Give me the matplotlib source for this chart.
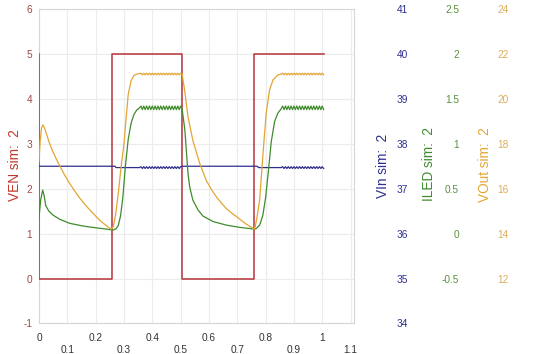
import matplotlib
matplotlib.use("Agg")
import matplotlib.pyplot as plt

plt.rcParams['font.family'] = ['Liberation Sans', 'DejaVu Sans']
plt.rcParams['axes.unicode_minus'] = False

# VEN square wave (V)
ven_t = [0, 0, 0.257, 0.257, 0.505, 0.505, 0.76, 0.76, 1.005]
ven_v = [5, 0, 0, 5, 5, 0, 0, 5, 5]

# ripple sample times on the two "on" plateaus
rip1_t = [0.36, 0.365, 0.37, 0.375, 0.38, 0.385, 0.39, 0.395, 0.40, 0.405,
          0.41, 0.415, 0.42, 0.425, 0.43, 0.435, 0.44, 0.445, 0.45, 0.455,
          0.46, 0.465, 0.47, 0.475, 0.48, 0.485, 0.49, 0.495, 0.50]
rip2_t = [0.86, 0.865, 0.87, 0.875, 0.88, 0.885, 0.89, 0.895, 0.90, 0.905,
          0.91, 0.915, 0.92, 0.925, 0.93, 0.935, 0.94, 0.945, 0.95, 0.955,
          0.96, 0.965, 0.97, 0.975, 0.98, 0.985, 0.99, 0.995, 1.0, 1.005]

# ILED (A)
led_a_t = [0.0, 0.006, 0.013, 0.018, 0.024, 0.035, 0.05, 0.073, 0.108, 0.155,
           0.2, 0.24, 0.262, 0.272, 0.28, 0.288, 0.296, 0.305, 0.315, 0.325,
           0.335, 0.345, 0.355]
led_a_i = [0.175, 0.375, 0.485, 0.425, 0.31, 0.25, 0.205, 0.16, 0.115, 0.085,
           0.065, 0.05, 0.04, 0.055, 0.09, 0.2, 0.4, 0.75, 1.05, 1.225,
           1.325, 1.375, 1.4]
led_r1_i = [1.42, 1.38, 1.42, 1.38, 1.42, 1.38, 1.42, 1.38, 1.42, 1.38,
            1.42, 1.38, 1.42, 1.38, 1.42, 1.38, 1.42, 1.38, 1.42, 1.38,
            1.42, 1.38, 1.42, 1.38, 1.42, 1.38, 1.42, 1.38, 1.42]
led_b_t = [0.505, 0.51, 0.515, 0.52, 0.526, 0.532, 0.543, 0.561, 0.579, 0.614,
           0.661, 0.708, 0.762, 0.768, 0.779, 0.79, 0.8, 0.81, 0.82, 0.832,
           0.843, 0.855]
led_b_i = [1.39, 1.275, 1.15, 0.93, 0.67, 0.52, 0.375, 0.265, 0.195, 0.135,
           0.095, 0.07, 0.05, 0.06, 0.095, 0.2, 0.4, 0.7, 1.025, 1.25,
           1.34, 1.39]
led_r2_i = [1.42, 1.38, 1.42, 1.38, 1.42, 1.38, 1.42, 1.38, 1.42, 1.38,
            1.42, 1.38, 1.42, 1.38, 1.42, 1.38, 1.42, 1.38, 1.42, 1.38,
            1.42, 1.38, 1.42, 1.38, 1.42, 1.38, 1.42, 1.38, 1.42, 1.38]

# VOut (V)
out_a_t = [0.0, 0.004, 0.009, 0.014, 0.019, 0.026, 0.035, 0.047, 0.06, 0.075,
           0.09, 0.108, 0.126, 0.144, 0.162, 0.179, 0.197, 0.214, 0.235, 0.255,
           0.262, 0.27, 0.28, 0.29, 0.3, 0.308, 0.315, 0.325, 0.335, 0.345]
out_a_v = [17.2, 18.1, 18.7, 18.84, 18.72, 18.45, 18.1, 17.7, 17.35, 16.98,
           16.62, 16.24, 15.9, 15.58, 15.3, 15.06, 14.82, 14.6, 14.38, 14.2,
           14.3, 14.8, 15.8, 17.0, 18.0, 19.2, 20.2, 20.8, 21.04, 21.1]
out_r1_v = [21.14, 21.07, 21.14, 21.07, 21.14, 21.07, 21.14, 21.07, 21.14, 21.07,
            21.14, 21.07, 21.14, 21.07, 21.14, 21.07, 21.14, 21.07, 21.14, 21.07,
            21.14, 21.07, 21.14, 21.07, 21.14, 21.07, 21.14, 21.07, 21.14]
out_b_t = [0.505, 0.514, 0.526, 0.543, 0.567, 0.59, 0.608, 0.626, 0.644, 0.661,
           0.679, 0.697, 0.715, 0.732, 0.761, 0.768, 0.779, 0.79, 0.802, 0.814,
           0.826, 0.843, 0.855]
out_b_v = [21.12, 20.4, 19.2, 18.16, 17.14, 16.38, 15.98, 15.64, 15.36, 15.12,
           14.93, 14.76, 14.58, 14.42, 14.2, 14.6, 15.5, 17.42, 19.36, 20.4,
           20.84, 21.06, 21.1]
out_r2_v = [21.14, 21.07, 21.14, 21.07, 21.14, 21.07, 21.14, 21.07, 21.14, 21.07,
            21.14, 21.07, 21.14, 21.07, 21.14, 21.07, 21.14, 21.07, 21.14, 21.07,
            21.14, 21.07, 21.14, 21.07, 21.14, 21.07, 21.14, 21.07, 21.14, 21.07]

# VIn (V)
vin_a_t = [0.0, 0.268, 0.272, 0.355]
vin_a_v = [37.5, 37.5, 37.47, 37.47]
vin_r1_v = [37.49, 37.45, 37.49, 37.45, 37.49, 37.45, 37.49, 37.45, 37.49, 37.45,
            37.49, 37.45, 37.49, 37.45, 37.49, 37.45, 37.49, 37.45, 37.49, 37.45,
            37.49, 37.45, 37.49, 37.45, 37.49, 37.45, 37.49, 37.45, 37.49]
vin_b_t = [0.505, 0.77, 0.775, 0.855]
vin_b_v = [37.5, 37.5, 37.47, 37.47]
vin_r2_v = [37.49, 37.45, 37.49, 37.45, 37.49, 37.45, 37.49, 37.45, 37.49, 37.45,
            37.49, 37.45, 37.49, 37.45, 37.49, 37.45, 37.49, 37.45, 37.49, 37.45,
            37.49, 37.45, 37.49, 37.45, 37.49, 37.45, 37.49, 37.45, 37.49, 37.45]

x_ticks = [0, 0.1, 0.2, 0.3, 0.4, 0.5, 0.6, 0.7, 0.8, 0.9, 1, 1.1]
x_labels = ['0', '0.1', '0.2', '0.3', '0.4', '0.5', '0.6', '0.7', '0.8', '0.9', '1', '1.1']
ven_ticks = [-1, 0, 1, 2, 3, 4, 5, 6]
vin_ticks = [34, 35, 36, 37, 38, 39, 40, 41]
led_ticks = [-0.5, 0, 0.5, 1, 1.5, 2, 2.5]
led_labels = ['-0.5', '0', '0.5', '1', '1.5', '2', '2.5']
out_ticks = [12, 14, 16, 18, 20, 22, 24]

c_ven = '#b5333a'
c_vin = '#2e2e8f'
c_led = '#3f8c2c'
c_out = '#e3a532'

fig = plt.figure(figsize=(5.5, 3.54), dpi=100)
left, bottom, width, height = 0.0709, 0.0862, 0.5727, 0.8884
ax = fig.add_axes([left, bottom, width, height])
ax.set_xlim(0, 1.112)
ax.set_ylim(-1, 6)
ax.grid(True, color='#ececec', lw=0.8)
ax.set_axisbelow(True)
for s in ax.spines.values():
    s.set_color('#d6d6d6')
ax.set_xticks(x_ticks)
ax.set_xticklabels([l if i % 2 == 0 else '\n' + l for i, l in enumerate(x_labels)])
ax.set_yticks(ven_ticks)
ax.tick_params(axis='both', length=0, labelsize=7.3)
ax.tick_params(axis='x', pad=7, labelcolor='#333333')
ax.tick_params(axis='y', pad=5, labelcolor='#a04848')

ax_vin = ax.twinx()
ax_led = ax.twinx()
ax_out = ax.twinx()
specs = [(ax_vin, (34, 41), vin_ticks, [str(t) for t in vin_ticks], c_vin, 408),
         (ax_led, (-1, 2.5), led_ticks, led_labels, '#5b8f3e', 459),
         (ax_out, (10, 24), out_ticks, [str(t) for t in out_ticks], '#dcae5a', 509)]
for a, lim, ticks, labels, col, px in specs:
    a.set_ylim(*lim)
    a.set_yticks(ticks)
    a.set_yticklabels(labels)
    for s in a.spines.values():
        s.set_visible(False)
    a.spines['right'].set_position(('axes', (px - 39) / 315))
    a.tick_params(axis='y', length=0, pad=0, labelsize=7.3, labelcolor=col)
    for lab in a.get_yticklabels():
        lab.set_horizontalalignment('right')

# draw series
ax.plot(ven_t, ven_v, color=c_ven, lw=1.1, zorder=5)
ax_vin.plot(vin_a_t + rip1_t + vin_b_t + rip2_t,
            vin_a_v + vin_r1_v + vin_b_v + vin_r2_v, color=c_vin, lw=0.9)
ax_led.plot(led_a_t + rip1_t + led_b_t + rip2_t,
            led_a_i + led_r1_i + led_b_i + led_r2_i, color=c_led, lw=0.9)
ax_out.plot(out_a_t + rip1_t + out_b_t + rip2_t,
            out_a_v + out_r1_v + out_b_v + out_r2_v, color=c_out, lw=0.9)

fig.text(15 / 550, 1 - 165 / 354, 'VEN sim:  2', rotation=90, ha='center', va='center',
         fontsize=9.8, color='#c0392b')
fig.text(383 / 550, 1 - 166 / 354, 'VIn sim:  2', rotation=90, ha='center', va='center',
         fontsize=9.8, color=c_vin)
fig.text(429 / 550, 1 - 164 / 354, 'ILED sim:  2', rotation=90, ha='center', va='center',
         fontsize=9.8, color=c_led)
fig.text(485 / 550, 1 - 165 / 354, 'VOut sim:  2', rotation=90, ha='center', va='center',
         fontsize=9.8, color=c_out)

fig.savefig('out.png', dpi=100)
